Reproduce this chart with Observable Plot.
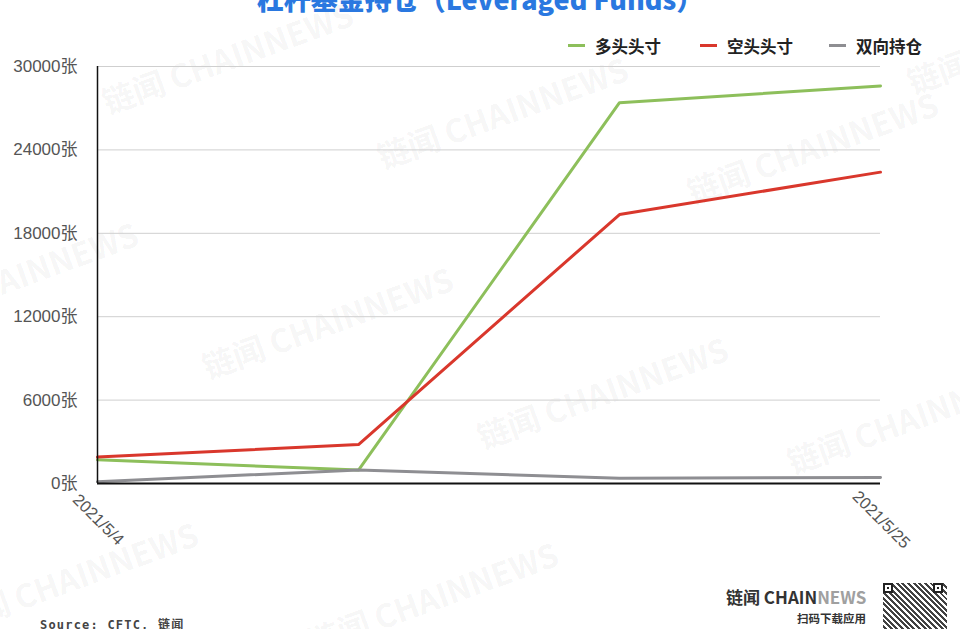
<!DOCTYPE html>
<html><head><meta charset="utf-8">
<script src="https://cdn.jsdelivr.net/npm/d3@7"></script>
<script src="https://cdn.jsdelivr.net/npm/@observablehq/plot@0.6"></script>
<style>
html,body{margin:0;padding:0;background:#fff;overflow:hidden;}
#wrap{position:relative;width:960px;height:629px;overflow:hidden;font-family:"Noto Sans CJK SC","Noto Sans",sans-serif;}
.wm{position:absolute;color:rgba(0,0,0,0.05);font-weight:bold;font-size:32px;white-space:nowrap;transform:rotate(-20deg);transform-origin:left top;font-family:"Noto Sans CJK SC",sans-serif;}
#chart{position:absolute;left:0;top:0;}
.abs{position:absolute;white-space:nowrap;}
</style></head>
<body><div id="wrap"></div>
<script>
const dates = ["2021/5/4", "2021/5/11", "2021/5/18", "2021/5/25"];
const seriesNames = ["多头头寸", "空头头寸", "双向持仓"];
const longPos = [1700, 970, 27400, 28600];
const shortPos = [1900, 2800, 19350, 22400];
const spreadPos = [130, 970, 380, 440];
const yTicks = [0, 6000, 12000, 18000, 24000, 30000];
const xLabels = ["2021/5/4", "2021/5/25"];
const colors = ["#8dbf5b", "#d9372c", "#8e8e92"];

const seriesValues = [longPos, shortPos, spreadPos];
const data = seriesNames.flatMap((s, i) => dates.map((d, j) => ({series: s, date: d, value: seriesValues[i][j]})));

const wrap = document.getElementById("wrap");

// watermarks
const wms = [[95,80,"链闻 CHAINNEWS"],[370,135,"链闻 CHAINNEWS"],[680,170,"链闻 CHAINNEWS"],[-120,300,"链闻 CHAINNEWS"],[195,345,"链闻 CHAINNEWS"],[470,415,"链闻 CHAINNEWS"],[780,440,"链闻 CHAINNEWS"],[-60,600,"链闻 CHAINNEWS"],[300,620,"链闻 CHAINNEWS"],[900,60,"链闻 CHAINNEWS"]];
for (const [x,y,t] of wms) {
  const d = document.createElement("div");
  d.className = "wm"; d.style.left = x+"px"; d.style.top = y+"px"; d.textContent = t;
  wrap.appendChild(d);
}

const font = "'Liberation Sans', 'Noto Sans CJK SC', sans-serif";
const chart = Plot.plot({
  width: 960,
  height: 629,
  marginLeft: 97,
  marginRight: 80,
  marginTop: 66,
  marginBottom: 146,
  style: {background: "transparent", fontFamily: font},
  x: {type: "point", domain: dates, padding: 0, axis: null},
  y: {domain: [0, 30000], axis: null},
  color: {domain: seriesNames, range: colors},
  marks: [
    Plot.gridY(yTicks, {stroke: "#cfcfcf", strokeOpacity: 1, strokeWidth: 1}),
    Plot.axisY(yTicks, {label: null, tickSize: 0, tickPadding: 20, fontSize: 17, fill: "#555", tickFormat: d => d + "张"}),
    Plot.line(data, {x: "date", y: "value", z: "series", stroke: "series", strokeWidth: 3}),
    Plot.ruleY([0], {stroke: "#111", strokeWidth: 2}),
    Plot.ruleX([dates[0]], {stroke: "#111", strokeWidth: 1.5}),
    Plot.text(xLabels, {x: d => d, frameAnchor: "bottom", rotate: 45, dy: 40, dx: -3, textAnchor: "middle", fontSize: 16.5, fill: "#555"})
  ]
});
chart.id = "chart";
wrap.appendChild(chart);

// title
const title = document.createElement("div");
title.className = "abs";
title.style.cssText += "left:0;width:960px;text-align:center;top:-15px;font-size:27px;font-weight:900;color:#2a78e0;line-height:27px;";
title.textContent = "杠杆基金持仓（Leveraged Funds）";
wrap.appendChild(title);

// legend
const legX = [568, 700, 829];
seriesNames.forEach((s, i) => {
  const sw = document.createElement("div");
  sw.className = "abs";
  sw.style.cssText += `left:${legX[i]}px;top:44px;width:17px;height:3px;background:${colors[i]};`;
  wrap.appendChild(sw);
  const t = document.createElement("div");
  t.className = "abs";
  t.style.cssText += `left:${legX[i]+27}px;top:34px;font-size:16.5px;font-weight:bold;color:#222;line-height:24px;`;
  t.textContent = s;
  wrap.appendChild(t);
});

// source
const src = document.createElement("div");
src.className = "abs";
src.style.cssText += "left:40px;top:615px;font-size:12px;font-weight:bold;color:#444;letter-spacing:1.2px;line-height:20px;font-family:'DejaVu Sans Mono','Noto Sans CJK SC',monospace;";
src.textContent = "Source: CFTC, 链闻";
wrap.appendChild(src);

// logo
const logo = document.createElement("div");
logo.className = "abs";
logo.style.cssText += "left:726px;top:585px;font-size:17px;font-weight:bold;color:#333;line-height:24px;";
logo.innerHTML = '链闻 CHAIN<span style="color:#a0a0a0">NEWS</span>';
wrap.appendChild(logo);
const logo2 = document.createElement("div");
logo2.className = "abs";
logo2.style.cssText += "left:797px;top:609px;font-size:11.5px;font-weight:bold;color:#333;line-height:18px;";
logo2.textContent = "扫码下载应用";
wrap.appendChild(logo2);

// QR-like block
const qr = document.createElement("div");
qr.className = "abs";
qr.style.cssText += "left:883px;top:583px;width:64px;height:50px;background:repeating-linear-gradient(45deg,#222 0 2px,#fff 2px 4px),#fff;opacity:0.85;";
wrap.appendChild(qr);
for (const [fx, fy] of [[883,583],[933,583]]) {
  const f = document.createElement("div");
  f.className = "abs";
  f.style.cssText += `left:${fx}px;top:${fy}px;width:10px;height:10px;border:2px solid #222;background:#fff;box-sizing:border-box;`;
  const c = document.createElement("div");
  c.style.cssText = "position:absolute;left:2px;top:2px;width:2px;height:2px;background:#222;";
  f.appendChild(c);
  wrap.appendChild(f);
}
</script>
</body></html>
